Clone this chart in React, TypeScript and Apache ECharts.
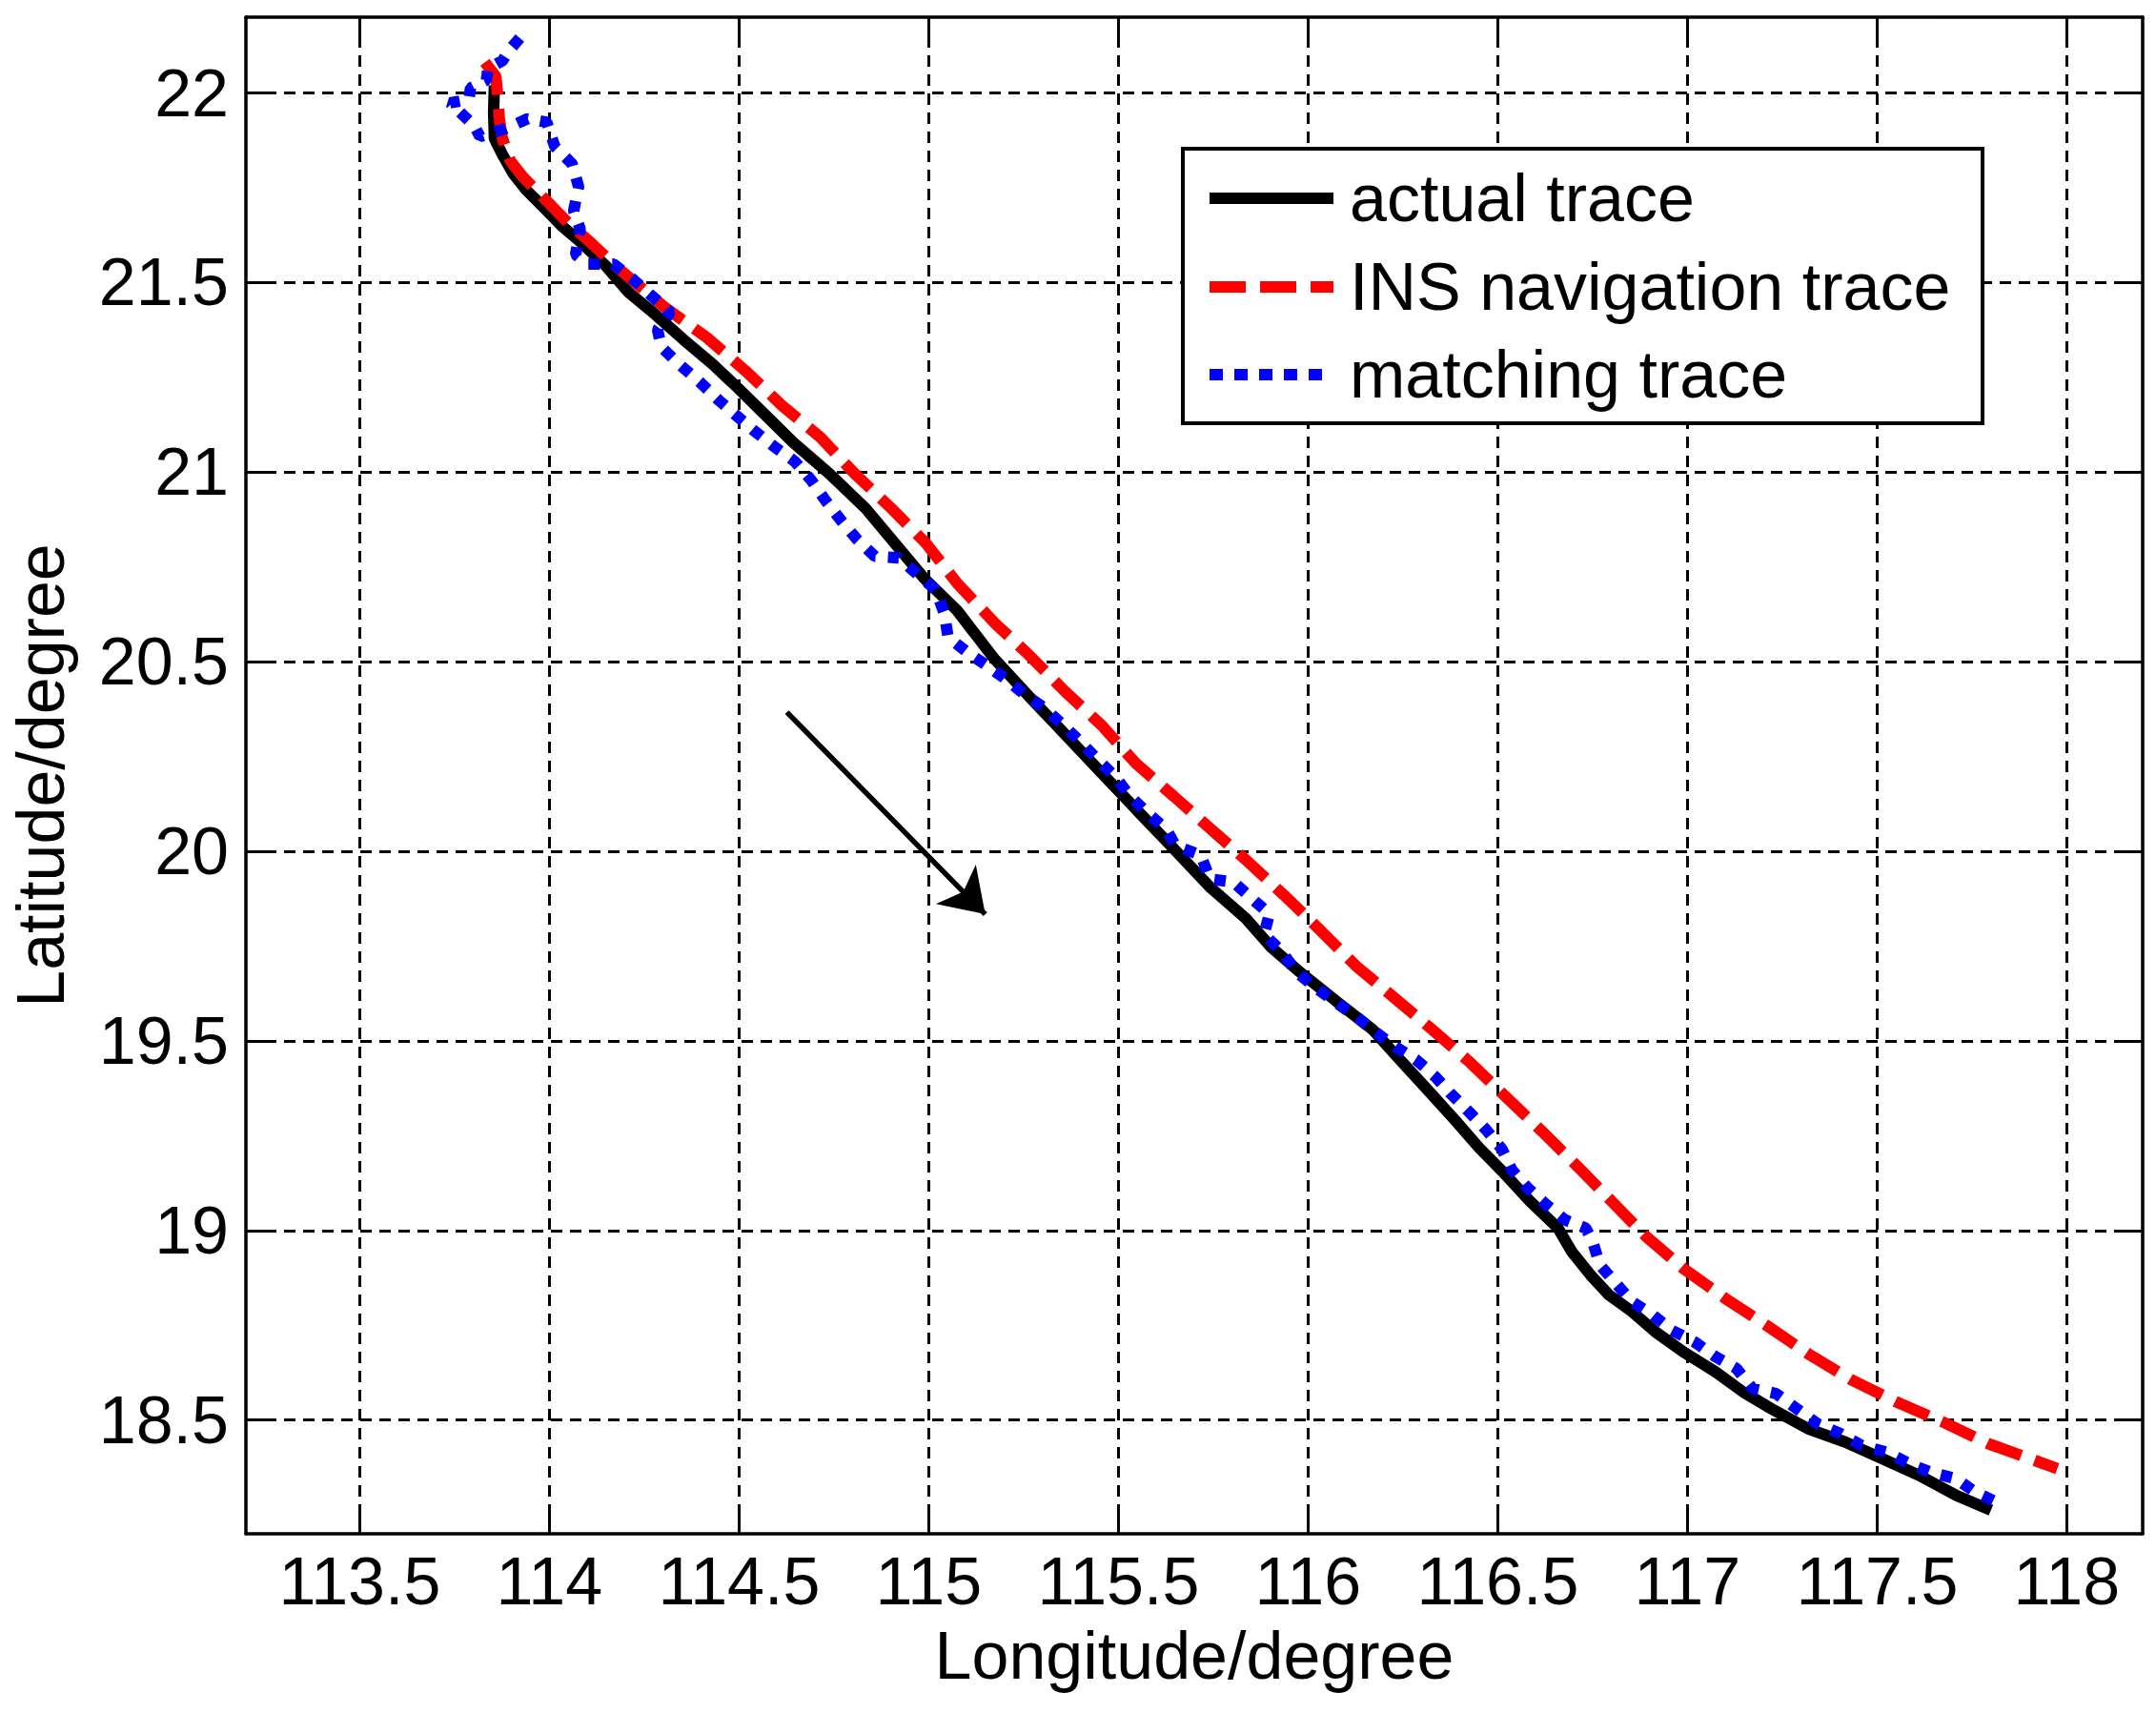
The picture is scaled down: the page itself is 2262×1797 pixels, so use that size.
import React, { useEffect, useRef } from "react";
import * as echarts from "echarts";

// ---- data ----
const xTicks = [113.5, 114, 114.5, 115, 115.5, 116, 116.5, 117, 117.5, 118];
const yTicks = [18.5, 19, 19.5, 20, 20.5, 21, 21.5, 22];

const actualLon = [
  113.855, 113.853, 113.855, 113.876, 113.905, 113.939, 113.981, 114.031, 114.081, 114.148,
  114.208, 114.28, 114.353, 114.43, 114.497, 114.57, 114.642, 114.738, 114.834, 114.911,
  114.988, 115.075, 115.171, 115.265, 115.36, 115.455, 115.55, 115.646, 115.741, 115.836,
  115.903, 115.979, 116.074, 116.17, 116.246, 116.325, 116.39, 116.451, 116.512, 116.585,
  116.659, 116.695, 116.744, 116.793, 116.854, 116.915, 116.989, 117.074, 117.147, 117.221,
  117.318, 117.416, 117.514, 117.611, 117.709, 117.8,
];
const actualLat = [
  22.02, 21.95, 21.88, 21.838, 21.787, 21.744, 21.702, 21.651, 21.608, 21.545,
  21.475, 21.415, 21.35, 21.285, 21.222, 21.15, 21.079, 20.996, 20.904, 20.812,
  20.72, 20.635, 20.51, 20.408, 20.308, 20.207, 20.107, 20.007, 19.906, 19.823,
  19.747, 19.681, 19.605, 19.53, 19.446, 19.36, 19.288, 19.218, 19.156, 19.077,
  19.006, 18.944, 18.883, 18.83, 18.786, 18.733, 18.68, 18.627, 18.574, 18.53,
  18.477, 18.442, 18.398, 18.354, 18.301, 18.262,
];

const insLon = [
  113.83, 113.859, 113.863, 113.868, 113.876, 113.897, 113.93, 113.972, 114.006, 114.048,
  114.106, 114.173, 114.232, 114.304, 114.415, 114.516, 114.613, 114.714, 114.805, 114.902,
  114.993, 115.075, 115.176, 115.265, 115.36, 115.455, 115.546, 115.646, 115.741, 115.841,
  115.936, 116.031, 116.127, 116.227, 116.327, 116.427, 116.524, 116.616, 116.714, 116.805,
  116.891, 116.989, 117.099, 117.208, 117.318, 117.434, 117.55, 117.673, 117.795, 117.917,
  117.975,
];
const insLat = [
  22.081, 22.043, 22.0, 21.932, 21.881, 21.821, 21.779, 21.736, 21.702, 21.659,
  21.608, 21.545, 21.495, 21.435, 21.355, 21.268, 21.176, 21.092, 20.996, 20.904,
  20.812, 20.707, 20.6, 20.517, 20.421, 20.333, 20.232, 20.145, 20.061, 19.973,
  19.885, 19.793, 19.697, 19.614, 19.53, 19.443, 19.35, 19.262, 19.165, 19.072,
  18.984, 18.9, 18.821, 18.75, 18.675, 18.605, 18.548, 18.495, 18.437, 18.393,
  18.372,
];

const matchLon = [
  113.922, 113.893, 113.876, 113.838, 113.834, 113.792, 113.788, 113.738, 113.801, 113.817,
  113.884, 113.943, 113.993, 114.014, 114.06, 114.077, 114.064, 114.081, 114.069, 114.098,
  114.169, 114.219, 114.266, 114.319, 114.285, 114.295, 114.343, 114.396, 114.444, 114.492,
  114.54, 114.593, 114.646, 114.69, 114.728, 114.767, 114.81, 114.858, 114.921, 114.969,
  115.017, 115.041, 115.051, 115.104, 115.15, 115.198, 115.25, 115.303, 115.35, 115.398,
  115.446, 115.493, 115.531, 115.579, 115.627, 115.65, 115.717, 115.741, 115.803, 115.85,
  115.898, 115.884, 115.931, 115.97, 116.022, 116.074, 116.127, 116.179, 116.231, 116.284,
  116.336, 116.374, 116.427, 116.469, 116.512, 116.537, 116.579, 116.628, 116.677, 116.732,
  116.75, 116.769, 116.811, 116.854, 116.909, 116.958, 117.019, 117.074, 117.129, 117.172,
  117.233, 117.288, 117.343, 117.404, 117.459, 117.526, 117.587, 117.642, 117.709, 117.758,
  117.825,
];
const matchLat = [
  22.145, 22.111, 22.085, 22.064, 22.034, 22.013, 21.983, 21.974, 21.915, 21.885,
  21.906, 21.932, 21.923, 21.859, 21.813, 21.753, 21.689, 21.642, 21.574, 21.549,
  21.549, 21.51, 21.468, 21.422, 21.376, 21.33, 21.284, 21.238, 21.192, 21.15,
  21.109, 21.067, 21.029, 20.979, 20.925, 20.875, 20.824, 20.778, 20.774, 20.732,
  20.691, 20.628, 20.565, 20.523, 20.492, 20.458, 20.416, 20.379, 20.337, 20.291,
  20.241, 20.195, 20.145, 20.099, 20.057, 20.015, 19.99, 19.927, 19.919, 19.877,
  19.835, 19.781, 19.735, 19.681, 19.639, 19.601, 19.564, 19.522, 19.484, 19.451,
  19.405, 19.363, 19.31, 19.266, 19.213, 19.16, 19.112, 19.068, 19.028, 19.006,
  18.971, 18.909, 18.861, 18.812, 18.777, 18.737, 18.706, 18.667, 18.636, 18.583,
  18.57, 18.53, 18.49, 18.464, 18.433, 18.415, 18.384, 18.362, 18.345, 18.31,
  18.279,
];

const arrowStart = [114.626, 20.367];
const arrowEnd = [115.149, 19.834];

const legendNames = ["actual trace", "INS navigation trace", "matching trace"];

const zip = (a: number[], b: number[]) => a.map((v, i) => [v, b[i]]);

const FONT = "'Liberation Sans', Arial, Helvetica, sans-serif";

export default function App() {
  const ref = useRef<HTMLDivElement>(null);

  useEffect(() => {
    if (!ref.current) return;
    const chart = echarts.init(ref.current, null, { renderer: "svg" });

    const gridLeft = 258;
    const gridTop = 18;
    const gridRight = 2248;
    const gridBottom = 1609;

    const axisCommon = {
      type: "value" as const,
      axisLine: { show: true, onZero: false, lineStyle: { color: "#000", width: 3.5 } },
      axisTick: { show: true, inside: true, length: 24, lineStyle: { color: "#000", width: 3 } },
    };

    const legX = 1241, legY = 156, legW = 839, legH = 288;
    const rows = [208, 301, 393];
    const lineX1 = 1269, lineX2 = 1399, textX = 1416;

    const option: any = {
      animation: false,
      backgroundColor: "#fff",
      grid: {
        left: gridLeft,
        top: gridTop,
        right: 2262 - gridRight,
        bottom: 1797 - gridBottom,
        containLabel: false,
      },
      xAxis: [
        {
          ...axisCommon,
          position: "bottom",
          min: 113.2,
          max: 118.2,
          name: "Longitude/degree",
          nameLocation: "middle",
          nameGap: 93,
          nameTextStyle: { fontFamily: FONT, fontSize: 70, color: "#000" },
          axisTick: { ...axisCommon.axisTick, customValues: xTicks },
          axisLabel: {
            customValues: xTicks,
            fontFamily: FONT,
            fontSize: 70,
            color: "#000",
            margin: 15,
          },
          splitLine: {
            show: true,
            lineStyle: { color: "#000", width: 3, type: [12, 8] },
          },
        },
        {
          ...axisCommon,
          position: "top",
          min: 113.2,
          max: 118.2,
          axisTick: { ...axisCommon.axisTick, customValues: xTicks },
          axisLabel: { show: false, customValues: xTicks },
          splitLine: { show: false },
        },
      ],
      yAxis: [
        {
          ...axisCommon,
          position: "left",
          min: 18.2,
          max: 22.2,
          name: "Latitude/degree",
          nameLocation: "middle",
          nameGap: 180,
          nameTextStyle: { fontFamily: FONT, fontSize: 70, color: "#000" },
          axisTick: { ...axisCommon.axisTick, customValues: yTicks },
          axisLabel: {
            customValues: yTicks,
            fontFamily: FONT,
            fontSize: 70,
            color: "#000",
            margin: 18,
          },
          splitLine: {
            show: true,
            lineStyle: { color: "#000", width: 3, type: [12, 8] },
          },
        },
        {
          ...axisCommon,
          position: "right",
          min: 18.2,
          max: 22.2,
          axisTick: { ...axisCommon.axisTick, customValues: yTicks },
          axisLabel: { show: false, customValues: yTicks },
          splitLine: { show: false },
        },
      ],
      series: [
        {
          name: legendNames[0],
          type: "line",
          xAxisIndex: 0,
          yAxisIndex: 0,
          data: zip(actualLon, actualLat),
          showSymbol: false,
          symbol: "none",
          silent: true,
          lineStyle: { color: "#000", width: 12, type: "solid" },
          markLine: {
            silent: true,
            symbol: ["none", "arrow"],
            symbolSize: 44,
            label: { show: false },
            emphasis: { disabled: true },
            lineStyle: { color: "#000", width: 5.5, type: "solid" },
            itemStyle: { color: "#000" },
            data: [[{ coord: arrowStart }, { coord: arrowEnd }]],
          },
        },
        {
          name: legendNames[1],
          type: "line",
          xAxisIndex: 0,
          yAxisIndex: 0,
          data: zip(insLon, insLat),
          showSymbol: false,
          symbol: "none",
          silent: true,
          lineStyle: { color: "#ff0000", width: 12, type: [38, 15], cap: "butt" },
        },
        {
          name: legendNames[2],
          type: "line",
          xAxisIndex: 0,
          yAxisIndex: 0,
          data: zip(matchLon, matchLat),
          showSymbol: false,
          symbol: "none",
          silent: true,
          lineStyle: { color: "#0000ff", width: 12, type: [12, 13], cap: "butt" },
        },
      ],
      graphic: [
        {
          type: "rect",
          z: 100,
          shape: { x: legX, y: legY, width: legW, height: legH },
          style: { fill: "#fff", stroke: "#000", lineWidth: 4 },
        },
        {
          type: "line",
          z: 101,
          shape: { x1: lineX1, y1: rows[0], x2: lineX2, y2: rows[0] },
          style: { stroke: "#000", lineWidth: 12 },
        },
        {
          type: "line",
          z: 101,
          shape: { x1: lineX1, y1: rows[1], x2: lineX2, y2: rows[1] },
          style: { stroke: "#ff0000", lineWidth: 12, lineDash: [38, 15], lineCap: "butt" },
        },
        {
          type: "line",
          z: 101,
          shape: { x1: lineX1, y1: rows[2], x2: lineX2, y2: rows[2] },
          style: { stroke: "#0000ff", lineWidth: 12, lineDash: [14, 12], lineCap: "butt" },
        },
        ...legendNames.map((t, i) => ({
          type: "text",
          z: 101,
          x: textX,
          y: rows[i],
          style: {
            text: t,
            fill: "#000",
            font: `70px ${FONT}`,
            textVerticalAlign: "middle",
            verticalAlign: "middle",
            textAlign: "left",
          },
        })),
      ],
    };

    chart.setOption(option);
    return () => chart.dispose();
  }, []);

  return (
    <div
      ref={ref}
      style={{
        position: "absolute",
        left: 0,
        top: 0,
        width: 2262,
        height: 1797,
        background: "#fff",
      }}
    />
  );
}
